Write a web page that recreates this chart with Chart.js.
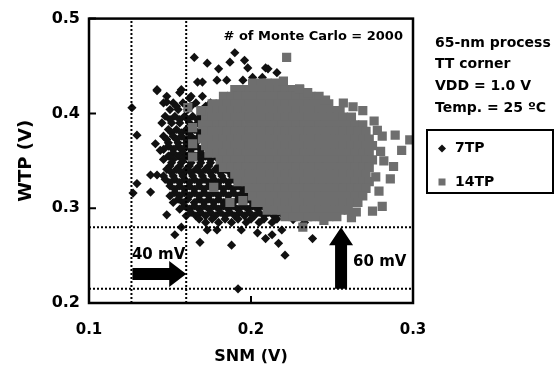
<!DOCTYPE html>
<html>
<head>
<meta charset="utf-8">
<script src="https://cdn.jsdelivr.net/npm/chart.js@4.4.1/dist/chart.umd.min.js"></script>
<style>
  body { margin: 0; background: #fff; }
  canvas { display: block; }
</style>
</head>
<body>
<canvas id="chart" width="555" height="367"></canvas>
<script>
// ---- axis ticks ----
const snmTicks = [0.1, 0.2, 0.3];
const wtpTicks = [0.2, 0.3, 0.4, 0.5];

// ---- 7TP cloud: rows of [WTP, [SNM ...]] ----
const rows7TP = [
  [0.425, [0.142, 0.157]],
  [0.418, [0.148, 0.163, 0.170]],
  [0.411, [0.146, 0.152, 0.158, 0.166, 0.175]],
  [0.4075, [0.154, 0.163, 0.172]],
  [0.404, [0.150, 0.155, 0.161, 0.170]],
  [0.397, [0.147, 0.153, 0.159, 0.164, 0.169]],
  [0.3935, [0.150, 0.156, 0.161, 0.167]],
  [0.390, [0.145, 0.151, 0.156, 0.162, 0.167]],
  [0.383, [0.149, 0.154, 0.160, 0.165, 0.171]],
  [0.3795, [0.151, 0.157, 0.162, 0.168]],
  [0.376, [0.146, 0.152, 0.157, 0.163, 0.168]],
  [0.3725, [0.148, 0.154, 0.160, 0.165, 0.171]],
  [0.369, [0.149, 0.155, 0.160, 0.166, 0.172]],
  [0.3655, [0.149, 0.155, 0.160, 0.166, 0.172]],
  [0.362, [0.146, 0.152, 0.157, 0.163, 0.169, 0.175]],
  [0.3585, [0.152, 0.158, 0.163, 0.169, 0.175]],
  [0.355, [0.149, 0.155, 0.160, 0.166, 0.172, 0.178]],
  [0.3515, [0.146, 0.152, 0.158, 0.163, 0.169, 0.175, 0.180]],
  [0.348, [0.151, 0.157, 0.163, 0.169, 0.175, 0.181]],
  [0.3445, [0.150, 0.156, 0.162, 0.168, 0.174, 0.180, 0.186]],
  [0.341, [0.148, 0.154, 0.160, 0.166, 0.172, 0.178, 0.184]],
  [0.3375, [0.151, 0.157, 0.163, 0.169, 0.175, 0.181, 0.187]],
  [0.334, [0.146, 0.152, 0.158, 0.164, 0.170, 0.176, 0.182, 0.188]],
  [0.3305, [0.147, 0.153, 0.159, 0.165, 0.171, 0.177, 0.183, 0.189]],
  [0.327, [0.150, 0.156, 0.162, 0.168, 0.174, 0.180, 0.186, 0.192]],
  [0.3235, [0.150, 0.156, 0.162, 0.168, 0.174, 0.180, 0.186, 0.192, 0.197]],
  [0.320, [0.153, 0.159, 0.165, 0.171, 0.177, 0.183, 0.189, 0.195]],
  [0.3165, [0.153, 0.159, 0.165, 0.171, 0.177, 0.183, 0.189, 0.195, 0.200]],
  [0.313, [0.150, 0.156, 0.162, 0.168, 0.174, 0.180, 0.186, 0.192, 0.198]],
  [0.3095, [0.155, 0.161, 0.168, 0.174, 0.180, 0.186, 0.192, 0.198, 0.204]],
  [0.306, [0.152, 0.158, 0.165, 0.171, 0.177, 0.183, 0.189, 0.195, 0.201, 0.207]],
  [0.3025, [0.159, 0.165, 0.171, 0.177, 0.183, 0.189, 0.195, 0.201, 0.207, 0.213, 0.219]],
  [0.299, [0.156, 0.162, 0.168, 0.174, 0.180, 0.186, 0.192, 0.198, 0.204, 0.210, 0.216, 0.222]],
  [0.2955, [0.163, 0.169, 0.175, 0.181, 0.187, 0.193, 0.199, 0.205, 0.211, 0.217, 0.223]],
  [0.292, [0.160, 0.166, 0.172, 0.178, 0.184, 0.190, 0.196, 0.202, 0.208, 0.214, 0.220]],
  [0.2885, [0.168, 0.176, 0.184, 0.192, 0.200, 0.208, 0.216]],
  [0.285, [0.172, 0.180, 0.188, 0.197, 0.205, 0.213]]
];
// scattered 7TP points, [SNM, WTP]
const extra7TP = [
  [0.1265, 0.406], [0.1296, 0.377], [0.1296, 0.326], [0.1272, 0.316],
  [0.190, 0.464], [0.165, 0.459], [0.173, 0.453], [0.180, 0.447], [0.187, 0.454],
  [0.196, 0.456], [0.198, 0.448], [0.209, 0.448], [0.2105, 0.447], [0.216, 0.443],
  [0.142, 0.424], [0.148, 0.412], [0.156, 0.422], [0.162, 0.416], [0.167, 0.433],
  [0.170, 0.433], [0.179, 0.435], [0.185, 0.435], [0.195, 0.435], [0.201, 0.438],
  [0.207, 0.438], [0.227, 0.417], [0.2315, 0.412], [0.141, 0.368], [0.144, 0.361],
  [0.138, 0.335], [0.142, 0.335], [0.138, 0.317], [0.148, 0.293], [0.153, 0.272],
  [0.157, 0.280], [0.1685, 0.264], [0.173, 0.277], [0.179, 0.277], [0.188, 0.261],
  [0.194, 0.277], [0.204, 0.274], [0.209, 0.268], [0.213, 0.272], [0.217, 0.263],
  [0.221, 0.2505], [0.219, 0.277], [0.238, 0.268], [0.192, 0.215], [0.258, 0.298],
  [0.226, 0.288], [0.233, 0.285], [0.240, 0.291],
  [0.190, 0.400], [0.200, 0.380], [0.210, 0.360], [0.195, 0.350], [0.205, 0.330],
  [0.215, 0.340], [0.185, 0.370], [0.200, 0.415], [0.220, 0.390], [0.225, 0.350]
];

// ---- 14TP cloud: rows of [WTP, [SNM ...]] ----
const rows14TP = [
  [0.432, [0.201, 0.206, 0.210, 0.215]],
  [0.425, [0.190, 0.194, 0.199, 0.203, 0.208, 0.212, 0.217, 0.221, 0.226, 0.230]],
  [0.418, [0.183, 0.188, 0.192, 0.197, 0.201, 0.206, 0.210, 0.215, 0.219, 0.224, 0.228, 0.233, 0.237, 0.242]],
  [0.410, [0.176, 0.181, 0.185, 0.190, 0.194, 0.199, 0.203, 0.208, 0.212, 0.217, 0.221, 0.226, 0.230, 0.235, 0.239, 0.244, 0.248]],
  [0.403, [0.174, 0.179, 0.183, 0.188, 0.192, 0.197, 0.201, 0.206, 0.210, 0.215, 0.219, 0.224, 0.228, 0.233, 0.237, 0.242, 0.246, 0.251, 0.255]],
  [0.396, [0.172, 0.176, 0.181, 0.185, 0.190, 0.194, 0.199, 0.203, 0.208, 0.212, 0.217, 0.221, 0.226, 0.230, 0.235, 0.239, 0.244, 0.248, 0.253, 0.257, 0.262]],
  [0.388, [0.170, 0.174, 0.179, 0.183, 0.188, 0.192, 0.197, 0.201, 0.206, 0.210, 0.215, 0.219, 0.224, 0.228, 0.233, 0.237, 0.242, 0.246, 0.251, 0.255, 0.260, 0.264, 0.269]],
  [0.381, [0.172, 0.176, 0.181, 0.185, 0.190, 0.194, 0.199, 0.203, 0.208, 0.212, 0.217, 0.221, 0.226, 0.230, 0.235, 0.239, 0.244, 0.248, 0.253, 0.257, 0.262, 0.266, 0.271]],
  [0.373, [0.170, 0.174, 0.179, 0.183, 0.188, 0.192, 0.197, 0.201, 0.206, 0.210, 0.215, 0.219, 0.224, 0.228, 0.233, 0.237, 0.242, 0.246, 0.251, 0.255, 0.260, 0.264, 0.269, 0.273]],
  [0.366, [0.172, 0.176, 0.181, 0.185, 0.190, 0.194, 0.199, 0.203, 0.208, 0.212, 0.217, 0.221, 0.226, 0.230, 0.235, 0.239, 0.244, 0.248, 0.253, 0.257, 0.262, 0.266, 0.271, 0.275]],
  [0.358, [0.174, 0.179, 0.183, 0.188, 0.192, 0.197, 0.201, 0.206, 0.210, 0.215, 0.219, 0.224, 0.228, 0.233, 0.237, 0.242, 0.246, 0.251, 0.255, 0.260, 0.264, 0.269, 0.273]],
  [0.351, [0.181, 0.185, 0.190, 0.194, 0.199, 0.203, 0.208, 0.212, 0.217, 0.221, 0.226, 0.230, 0.235, 0.239, 0.244, 0.248, 0.253, 0.257, 0.262, 0.266, 0.271, 0.275]],
  [0.343, [0.183, 0.188, 0.192, 0.197, 0.201, 0.206, 0.210, 0.215, 0.219, 0.224, 0.228, 0.233, 0.237, 0.242, 0.246, 0.251, 0.255, 0.260, 0.264, 0.269, 0.273]],
  [0.336, [0.190, 0.194, 0.199, 0.203, 0.208, 0.212, 0.217, 0.221, 0.226, 0.230, 0.235, 0.239, 0.244, 0.248, 0.253, 0.257, 0.262, 0.266, 0.271]],
  [0.328, [0.192, 0.197, 0.201, 0.206, 0.210, 0.215, 0.219, 0.224, 0.228, 0.233, 0.237, 0.242, 0.246, 0.251, 0.255, 0.260, 0.264, 0.269, 0.273]],
  [0.321, [0.199, 0.203, 0.208, 0.212, 0.217, 0.221, 0.226, 0.230, 0.235, 0.239, 0.244, 0.248, 0.253, 0.257, 0.262, 0.266, 0.271]],
  [0.313, [0.201, 0.206, 0.210, 0.215, 0.219, 0.224, 0.228, 0.233, 0.237, 0.242, 0.246, 0.251, 0.255, 0.260, 0.264, 0.269]],
  [0.306, [0.203, 0.208, 0.212, 0.217, 0.221, 0.226, 0.230, 0.235, 0.239, 0.244, 0.248, 0.253, 0.257, 0.262, 0.266]],
  [0.298, [0.210, 0.215, 0.219, 0.224, 0.228, 0.233, 0.237, 0.242, 0.246, 0.251, 0.255, 0.260]],
  [0.291, [0.221, 0.226, 0.230, 0.235, 0.239, 0.244, 0.248, 0.253]]
];
const extra14TP = [
  [0.222, 0.459], [0.220, 0.434], [0.230, 0.426], [0.235, 0.422], [0.246, 0.414],
  [0.257, 0.411], [0.269, 0.403], [0.278, 0.382], [0.281, 0.376], [0.289, 0.377],
  [0.298, 0.372], [0.293, 0.361], [0.288, 0.344], [0.286, 0.331], [0.277, 0.333],
  [0.281, 0.302], [0.275, 0.297], [0.232, 0.280], [0.164, 0.368], [0.164, 0.354],
  [0.177, 0.322], [0.187, 0.306], [0.195, 0.308], [0.161, 0.406], [0.169, 0.403],
  [0.164, 0.385], [0.262, 0.290], [0.245, 0.287], [0.282, 0.350], [0.280, 0.360],
  [0.265, 0.296], [0.279, 0.318], [0.276, 0.392], [0.263, 0.407]
];

// ---- dotted limit lines and annotations ----
const snmLimits = [0.1262, 0.160];
const wtpLimits = [0.280, 0.215];
const notes = ['65-nm process', 'TT corner', 'VDD = 1.0 V', 'Temp. = 25 ºC'];

const FONT = '"DejaVu Sans", Arial, sans-serif';

function rowsToPoints(rows) {
  return rows.flatMap(([w, list]) => list.map(s => ({ x: s, y: w })));
}
function pairsToPoints(pairs) {
  return pairs.map(([s, w]) => ({ x: s, y: w }));
}

const limitLines = [
  ...snmLimits.map(s => [{ x: s, y: 0.2 }, { x: s, y: 0.5 }]),
  ...wtpLimits.map(w => [{ x: 0.1, y: w }, { x: 0.3, y: w }])
].map(pts => ({
  data: pts,
  showLine: true,
  borderColor: '#000',
  borderWidth: 2,
  borderDash: [2, 2],
  pointRadius: 0,
  order: 1
}));

// frame, inward ticks, arrows, text and the legend box
const decor = {
  id: 'decor',
  afterDraw(chart) {
    const { ctx, chartArea: a, scales: { x, y } } = chart;
    ctx.save();
    ctx.strokeStyle = '#000';
    ctx.fillStyle = '#000';

    ctx.lineWidth = 2.5;
    ctx.strokeRect(a.left, a.top, a.right - a.left, a.bottom - a.top);

    ctx.lineWidth = 2;
    ctx.beginPath();
    snmTicks.forEach(v => {
      const px = x.getPixelForValue(v);
      ctx.moveTo(px, a.bottom); ctx.lineTo(px, a.bottom - 7);
    });
    wtpTicks.forEach(v => {
      const py = y.getPixelForValue(v);
      ctx.moveTo(a.left, py); ctx.lineTo(a.left + 7, py);
    });
    ctx.stroke();

    // 40 mV arrow (pointing right)
    const ax0 = x.getPixelForValue(snmLimits[0]) + 1;
    const ax1 = x.getPixelForValue(snmLimits[1]);
    const ay = y.getPixelForValue(0.2305);
    ctx.beginPath();
    ctx.moveTo(ax0, ay - 6); ctx.lineTo(ax1 - 17, ay - 6); ctx.lineTo(ax1 - 17, ay - 13);
    ctx.lineTo(ax1, ay); ctx.lineTo(ax1 - 17, ay + 13); ctx.lineTo(ax1 - 17, ay + 6);
    ctx.lineTo(ax0, ay + 6); ctx.closePath(); ctx.fill();

    // 60 mV arrow (pointing up)
    const bx = x.getPixelForValue(0.2556);
    const by0 = y.getPixelForValue(wtpLimits[1]);
    const by1 = y.getPixelForValue(wtpLimits[0]);
    ctx.beginPath();
    ctx.moveTo(bx - 6, by0); ctx.lineTo(bx - 6, by1 + 18); ctx.lineTo(bx - 12, by1 + 18);
    ctx.lineTo(bx, by1); ctx.lineTo(bx + 12, by1 + 18); ctx.lineTo(bx + 6, by1 + 18);
    ctx.lineTo(bx + 6, by0); ctx.closePath(); ctx.fill();

    ctx.textBaseline = 'middle';
    ctx.font = 'bold 15px ' + FONT;
    ctx.textAlign = 'left';
    ctx.fillText('40 mV', x.getPixelForValue(0.1265), y.getPixelForValue(0.2505));
    ctx.fillText('60 mV', x.getPixelForValue(0.263), y.getPixelForValue(0.243));

    ctx.font = 'bold 13px ' + FONT;
    ctx.textAlign = 'right';
    ctx.fillText('# of Monte Carlo = 2000', x.getPixelForValue(0.2938), y.getPixelForValue(0.4805));

    // notes on the right
    ctx.font = 'bold 14px ' + FONT;
    ctx.textAlign = 'left';
    const nx = a.right + 22;
    notes.forEach((t, i) => ctx.fillText(t, nx, 43 + i * 21.7));

    // legend box
    const lx = a.right + 14, ly = 130;
    ctx.lineWidth = 2;
    ctx.strokeRect(lx, ly, 126, 63);
    ctx.fillStyle = '#111';
    ctx.beginPath();
    ctx.moveTo(lx + 15, ly + 14.5); ctx.lineTo(lx + 19, ly + 18.5);
    ctx.lineTo(lx + 15, ly + 22.5); ctx.lineTo(lx + 11, ly + 18.5);
    ctx.closePath(); ctx.fill();
    ctx.fillStyle = '#6e6e6e';
    ctx.fillRect(lx + 11.5, ly + 48.5, 7, 7);
    ctx.fillStyle = '#000';
    ctx.fillText('7TP', lx + 28, ly + 18.5);
    ctx.fillText('14TP', lx + 28, ly + 52);
    ctx.restore();
  }
};

const tickFont = size => ({ family: FONT, size, weight: 'bold' });

new Chart(document.getElementById('chart'), {
  type: 'scatter',
  data: {
    datasets: [
      {
        label: '7TP',
        data: [...rowsToPoints(rows7TP), ...pairsToPoints(extra7TP)],
        pointStyle: 'rectRot',
        pointRadius: 4.6,
        backgroundColor: '#111',
        borderColor: '#111',
        borderWidth: 0,
        order: 3
      },
      {
        label: '14TP',
        data: [...rowsToPoints(rows14TP), ...pairsToPoints(extra14TP)],
        pointStyle: 'rect',
        pointRadius: 6.5,
        backgroundColor: '#6e6e6e',
        borderColor: '#6e6e6e',
        borderWidth: 0,
        order: 2
      },
      ...limitLines
    ]
  },
  options: {
    responsive: false,
    animation: false,
    events: [],
    layout: { padding: { top: 18, right: 142, left: 0, bottom: 0 } },
    plugins: { legend: { display: false }, tooltip: { enabled: false } },
    scales: {
      x: {
        type: 'linear',
        min: 0.1,
        max: 0.3,
        afterBuildTicks: s => { s.ticks = snmTicks.map(v => ({ value: v })); },
        afterFit: s => { s.height = 64; },
        grid: { display: false, drawTicks: false },
        border: { display: false },
        ticks: {
          autoSkip: false,
          maxRotation: 0,
          padding: 18,
          color: '#000',
          font: tickFont(15),
          callback: v => v.toFixed(1)
        },
        title: {
          display: true,
          text: 'SNM (V)',
          color: '#000',
          font: tickFont(16),
          padding: { top: 0, bottom: 1 }
        }
      },
      y: {
        type: 'linear',
        min: 0.2,
        max: 0.5,
        afterBuildTicks: s => { s.ticks = wtpTicks.map(v => ({ value: v })); },
        afterFit: s => { s.width = 89; },
        grid: { display: false, drawTicks: false },
        border: { display: false },
        ticks: {
          autoSkip: false,
          padding: 9,
          color: '#000',
          font: tickFont(16),
          callback: v => v.toFixed(1)
        },
        title: {
          display: true,
          text: 'WTP (V)',
          color: '#000',
          font: tickFont(18),
          padding: { top: 16, bottom: 0 }
        }
      }
    }
  },
  plugins: [decor]
});
</script>
</body>
</html>
